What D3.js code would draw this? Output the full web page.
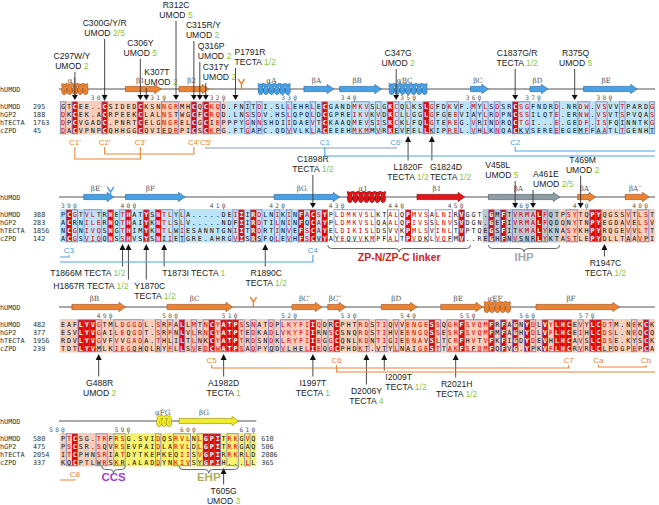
<!DOCTYPE html>
<html><head><meta charset="utf-8">
<script src="https://cdn.jsdelivr.net/npm/d3@7/dist/d3.min.js"></script>
<style>html,body{margin:0;padding:0;background:#fff;}svg{display:block;}</style>
</head><body>
<svg id="chart" width="659" height="505"></svg>
<script>
// ================= DATA =================
const seqNames = ["hUMOD", "hGP2", "hTECTA", "cZPD"];
const startHUMOD = [295, 388, 482, 580];
const startHGP2 = [188, 283, 377, 475];
const startHTECTA = [1763, 1856, 1956, 2054];
const startCZPD = [45, 142, 239, 337];
const endNumbers = [610, 506, 2086, 365];

const hUMOD = [
  "GTCEE..CSIDEDCKSNNGRMHCQCKQD.FNITDI.SLLEHRLECGANDMKVSLGKCQLKSLGFDKVF.MYLSDSRCSGFNDRD.NRDW.VSVVTPARDG",
  "PCGTVLTRNETHATYSNTLYLA.....DEIIIRDLNIKINFACSYPLDMKVSLKTALQPMVSALNIRVGGT.GMFTVRMALFQTPSYTQPYQGSSVTLST",
  "EAFLYVGTMLDGGDL.SRFALLMTNCYATPSSNATDPLKYFIIQDRCPHTRDSTIQVVENGESSQGRFSVQMFRFAGNYDLVYLHCEVYLCDTM.NEKCK",
  "PTCSG.TRFRSG.SVIDQSRVLNLGPITRKGVQ"];
const hGP2 = [
  "DKCEK.ACRPEEKCLALNSTWGCFCRQD.LNSSDV.HSLQPQLDCGPREIKVKVDKCLLGGLGFGEEVIAYLRDPNCSSILQTE.ERNW.VSVTSPVQAS",
  "ACRNILERNQTHAIYKNTLSLV.....NDFIIRDTILNINFQCAYPLDMKVSLQAALQPIVSSLNVSVDGN.GEFIVRMALFQDQNYTNPYEGDAVELSV",
  "ESVLYVGAILEQGDT.SRFNLVLRNCYATPTEDKADLVKYFIIRNSCSNQRDSTIHVEENGQSSESRFSVQMFMFAGHYDLVFLHCEIHLCDSL.NEQCQ",
  "PSCSR.SQVRSEVPAIDLARVLDLGPITRRGAQ"];
const hTECTA = [
  "DPCVGADC.PNRTCELGNGRELCGCIEPPPYGNNSHDIIDAEVTCKAAQMEVSISKCKLFQLGTEREG.VRINDRQCTGI...E.GEDF.ISFQINNTKG",
  "NCGNIVQSNGTHIMYKNTLWIESANNTGNIITRDRTINVEFSCAYELDIKISLDSVVKPMLSVINLTVPTQEGSFITKMALYKNASYKHPYRQGEVVLTT",
  "RDVLYVGVFVVGADA.THLILTLNKCYATPTRDSNDKLRYFIIEGGCQNLKDNTIGIEENAVSLTCRFHVTVFKFIGDYDEVHLHCAVSLCDSE.KYSCK",
  "ITCPHNSRIATDYTKEPKEQIISVGPIRRKRLD"];
const cZPD = [
  "DACVPNPCQHHGGCQVIEDRPICSCKPG.FTGAPC.QDVVLKLACEEEHMKMMVRKEVFELLKIPREL.VHLKNQACKVSEREEEGEMFFAATLTGENHT",
  "ACGSVIQQNSSHVSYSNIIETGRE.AHRGVISRSFQLEVHFSCVYAYEQVVKMPFALTPVDKLVQFMV..REGHFNVSNRLYKTASTLEPYDLLTAAVPI",
  "TDTLYVMLKIEGQHQLRYFLLSVEDCWATPSADPYQDVLHELIEQGCPHDKT.VTYLNAIGESTTAKFSFQMFQFVG.YPKVFLHCRVRLCLPDGPEPCA",
  "KQCPTLWRSKR.ALADDYNKIVSYGPIH...LL"];

// hUMOD residue ranges of the regions
const domainRanges = [["egf", 295, 320], ["zpn", 321, 427], ["linker", 428, 453], ["ihp", 454, 465], ["zpc", 466, 587], ["cterm", 588, 610]];
// secondary structure (hUMOD numbering)
const helices = [["α1", 295, 299, "egf"], ["αA", 325, 329, "zpn"], ["αBC", 346, 352, "zpn"], ["α1", 431, 437, "linker"], ["αEF", 552, 556, "zpc"], ["αFG", 594, 596, "cterm"]];
const strands = [["β1", 304, 309, "egf"], ["β2", 313, 317, "egf"], ["βA", 332, 336, "zpn"], ["βB", 338, 344, "zpn"], ["βC", 359, 361, "zpn"], ["βD", 369, 371, "zpn"], ["βE", 377, 384, "zpn"], ["βE′", 392, 396, "zpn"], ["βF", 399, 408, "zpn"], ["βG", 419, 429, "zpn"], ["β1", 443, 450, "linker"], ["βA", 454, 465, "ihp"], ["βA′", 469, 471, "zpc"], ["βA′′", 477, 480, "zpc"], ["βB", 484, 492, "zpc"], ["βC", 499, 509, "zpc"], ["βC′", 520, 524, "zpc"], ["βC′′", 526, 528, "zpc"], ["βD", 535, 540, "zpc"], ["βE", 545, 551, "zpc"], ["βF", 561, 574, "zpc"], ["βG", 598, 607, "cterm"]];
const glycans = [[322, "egf"], [396, "zpn"], [513, "zpc"]];
const rulerTicks = [300, 310, 320, 330, 340, 350, 360, 370, 380, 390, 400, 410, 420, 430, 440, 450, 460, 470, 480, 490, 500, 510, 520, 530, 540, 550, 560, 570, 580, 590, 600, 610];

// disease mutations: label, gene, grade, sequence index, residue
const mutations = [
  ["C297W/Y", "UMOD", "2", 0, 297], ["C300G/Y/R", "UMOD", "2/5", 0, 300], ["C306Y", "UMOD", "5", 0, 306],
  ["K307T", "UMOD", "2", 0, 307], ["R312C", "UMOD", "5", 0, 312], ["C315R/Y", "UMOD", "2", 0, 315],
  ["Q316P", "UMOD", "2", 0, 316], ["C317Y", "UMOD", "2", 0, 317], ["P1791R", "TECTA", "1/2", 2, 1791],
  ["C347G", "UMOD", "2", 0, 347], ["C1837G/R", "TECTA", "1/2", 2, 1837], ["R375Q", "UMOD", "5", 0, 375],
  ["L1820F", "TECTA", "1/2", 2, 1820], ["G1824D", "TECTA", "1/2", 2, 1824], ["C1898R", "TECTA", "1/2", 2, 1898],
  ["V458L", "UMOD", "5", 0, 458], ["A461E", "UMOD", "2/5", 0, 461], ["T469M", "UMOD", "2", 0, 469],
  ["T1866M", "TECTA", "1/2", 2, 1866], ["H1867R", "TECTA", "1/2", 2, 1867], ["Y1870C", "TECTA", "1/2", 2, 1870],
  ["T1873I", "TECTA", "1", 2, 1873], ["R1890C", "TECTA", "1/2", 2, 1890], ["R1947C", "TECTA", "1/2", 2, 1947],
  ["G488R", "UMOD", "2", 0, 488], ["A1982D", "TECTA", "1", 2, 1982], ["I1997T", "TECTA", "1", 2, 1997],
  ["D2006Y", "TECTA", "4", 2, 2006], ["I2009T", "TECTA", "1/2", 2, 2009], ["R2021H", "TECTA", "1/2", 2, 2021],
  ["T605G", "UMOD", "3", 0, 605]];

// cysteines (hUMOD numbering) and disulfide pairs
const cysteines = [["C1'", 297, "egf"], ["C2'", 300, "egf"], ["C3'", 306, "egf"], ["C4'", 315, "egf"], ["C5'", 317, "egf"],
  ["C1", 335, "zpn"], ["C6'", 347, "zpn"], ["C2", 366, "zpn"], ["C3", 389, "zpn"], ["C4", 425, "zpn"],
  ["C5", 506, "zpc"], ["C6", 527, "zpc"], ["C7", 566, "zpc"], ["Ca", 571, "zpc"], ["Cb", 578, "zpc"], ["C8", 582, "zpc"]];
const disulfides = [["C5'", "C6'", "bridge"], ["C2", "C3", "zpn"], ["C2'", "C4'", "egf"], ["C1", "C4", "zpn"], ["C1'", "C3'", "egf"],
  ["Ca", "Cb", "zpc"], ["C5", "C7", "zpc"], ["C6", "C8", "zpc"]];
const braces = [["ZP-N/ZP-C linker", 428, 451, "linker"], ["IHP", 454, 465, "ihp"], ["CCS", 586, 589, "ccs"], ["EHP", 598, 607, "ehp"]];

// ================= LAYOUT / STYLE =================
const svg = d3.select("#chart");
const x = d3.scaleLinear().domain([0, 100]).range([60, 655]);
const cw = x(1) - x(0);
const cx = c => x(c + 0.5);
const ssY = [89, 197, 307, 421];
const rowOff = d3.scaleLinear().domain([0, 3]).range([17.6, 41.45]);
const MONO = "'DejaVu Sans Mono','Liberation Mono',monospace";
const SANS = "'Liberation Sans',Arial,Helvetica,sans-serif";
const SEQ_FS = 6.8, LAB_FS = 8.6, LAB_LH = 10;
const bgColor = d3.scaleOrdinal(["egf", "zpn", "linker", "ihp", "zpc", "cterm"], ["#f8cdb9", "#bde4f6", "none", "#bcc7cf", "#f8cdb9", "#f8f36e"]);
const ssColor = d3.scaleOrdinal(["egf", "zpn", "linker", "ihp", "zpc", "cterm", "bridge"], ["#ea8434", "#4aa2e6", "#e3151a", "#8d9ca4", "#ea8434", "#f1ec2a", "#8a9db3"]);
const ssStroke = d3.scaleOrdinal(["egf", "zpn", "linker", "ihp", "zpc", "cterm"], ["#a5521a", "#2a6aa8", "#8a0a0a", "#56646b", "#a5521a", "#9a9410"]);
const braceColor = d3.scaleOrdinal(["linker", "ihp", "ccs", "ehp"], ["#d01c1c", "#a0a9ad", "#a041cc", "#b3ad5a"]);
const GREEN = "#8cc83c";

// mutation label layout: dx from residue x, anchor, first baseline, single line?
const mutLayout = {
  "C297W/Y": [-3, "middle", 59], "C300G/Y/R": [0, "middle", 26], "C306Y": [0, "middle", 46], "K307T": [-2, "start", 75],
  "R312C": [0, "middle", 8], "C315R/Y": [-8, "start", 28], "Q316P": [-2, "start", 49], "C317Y": [-3, "start", 70],
  "P1791R": [-1, "start", 55], "C347G": [2, "middle", 56], "C1837G/R": [2, "middle", 56], "R375Q": [1, "middle", 56],
  "L1820F": [0, "middle", 170], "G1824D": [-2, "start", 170], "C1898R": [0, "middle", 162],
  "V458L": [-30, "start", 168], "A461E": [0, "start", 177], "T469M": [2, "middle", 163],
  "T1866M": [3, "end", 276, true], "H1867R": [0, "end", 289, true], "Y1870C": [-12, "start", 289], "T1873I": [-2, "start", 276, true],
  "R1890C": [1, "middle", 276], "R1947C": [1, "middle", 266],
  "G488R": [1, "middle", 386], "A1982D": [0, "middle", 386], "I1997T": [0, "middle", 386], "D2006Y": [0, "middle", 394],
  "I2009T": [1, "start", 380], "R2021H": [1, "middle", 387], "T605G": [0, "middle", 494]
};
const bondLevels = { "C5'": [59], "C2": [62, 60], "C2'": [65], "C1": [67, 65], "C1'": [70], "Ca": [60], "C5": [61], "C6": [65, 59] };
const braceY = { "linker": [48, 64], "ihp": [48, 64], "ccs": [45, 60], "ehp": [45, 60] };

// ================= DERIVED =================
const aligned = [hUMOD, hGP2, hTECTA, cZPD];
const starts = [startHUMOD, startHGP2, startHTECTA, startCZPD];
const posMaps = aligned.map((blocks, si) => {
  const m = new Map();
  blocks.forEach((str, b) => {
    let n = starts[si][b];
    for (let c = 0; c < str.length; c++) if (str[c] !== ".") { m.set(n, { b, c }); n++; }
  });
  return m;
});
const pos = (si, res) => posMaps[si].get(res);
const colRes = hUMOD.map((str, b) => {
  let n = startHUMOD[b]; const arr = [];
  for (let c = 0; c < str.length; c++) { if (str[c] !== ".") { arr.push(n); n++; } else arr.push(null); }
  return arr;
});
const domOf = r => { for (const [d, a, z] of domainRanges) if (r >= a && r <= z) return d; return null; };

const simGroups = ["ILVM", "FYW", "KR", "DE", "ST", "NQ", "ND", "EQ", "AGS"];
function colStatus(chars) {
  const aa = chars.filter(ch => ch !== ".");
  if (aa.length === 4 && aa.every(ch => ch === aa[0])) return { type: "id", set: aa[0] };
  let best = 0, bestSet = "";
  const counts = d3.rollup(aa, v => v.length, d => d);
  for (const [ch, n] of counts) if (n > best) { best = n; bestSet = ch; }
  for (const g of simGroups) { const n = aa.filter(ch => g.includes(ch)).length; if (n > best) { best = n; bestSet = g; } }
  return best >= 3 ? { type: "sim", set: bestSet } : { type: "none", set: "" };
}

// ================= DRAW =================
const gBg = svg.append("g"), gId = svg.append("g"), gFrame = svg.append("g"), gTxt = svg.append("g"), gAnn = svg.append("g");

hUMOD.forEach((str, b) => {
  const n = str.length, y0 = ssY[b];
  const top = y0 + 12, bot = y0 + 45.5;
  const doms = [];
  for (let c = 0; c < n; c++) {
    let r = colRes[b][c], k = c;
    while (r === null && k < n - 1) { k++; r = colRes[b][k]; }
    doms.push(domOf(r));
  }
  let s = 0;
  for (let c = 1; c <= n; c++) {
    if (c === n || doms[c] !== doms[s]) {
      if (bgColor(doms[s]) !== "none")
        gBg.append("rect").attr("x", x(s)).attr("y", top).attr("width", x(c) - x(s)).attr("height", bot - top).attr("fill", bgColor(doms[s]));
      s = c;
    }
  }
  const stat = [];
  for (let c = 0; c < n; c++) stat.push(colStatus(aligned.map(a => a[b][c])));
  stat.forEach((st, c) => {
    if (st.type === "id") gId.append("rect").attr("x", x(c)).attr("y", top + 1).attr("width", cw).attr("height", bot - top - 2).attr("fill", "#e10a0a");
  });
  let rs = -1;
  for (let c = 0; c <= n; c++) {
    const on = c < n && stat[c].type !== "none";
    if (on && rs < 0) rs = c;
    if (!on && rs >= 0) {
      gFrame.append("rect").attr("x", x(rs) + 0.3).attr("y", top + 0.8).attr("width", x(c) - x(rs) - 0.6).attr("height", bot - top - 1.6)
        .attr("fill", "none").attr("stroke", "#7483cf").attr("stroke-width", 0.8);
      rs = -1;
    }
  }
  aligned.forEach((a, i) => {
    const yy = y0 + rowOff(i) + 2.6;
    gTxt.append("text").attr("x", 0).attr("y", yy).text(seqNames[i]).attr("font-family", MONO).attr("font-size", SEQ_FS).attr("fill", "#333");
    gTxt.append("text").attr("x", 33).attr("y", yy).text(starts[i][b]).attr("font-family", MONO).attr("font-size", SEQ_FS).attr("fill", "#333");
    if (b === 3) gTxt.append("text").attr("x", x(n) + 5).attr("y", yy).text(endNumbers[i]).attr("font-family", MONO).attr("font-size", SEQ_FS).attr("fill", "#333");
    [...a[b]].forEach((ch, c) => {
      const st = stat[c];
      let fill = "#111", fw = "normal";
      if (st.type === "id") { fill = "#fff"; fw = "bold"; }
      else if (st.type === "sim" && ch !== "." && st.set.includes(ch)) fill = "#d40000";
      gTxt.append("text").attr("x", cx(c)).attr("y", yy).attr("text-anchor", "middle").text(ch)
        .attr("font-family", MONO).attr("font-size", SEQ_FS).attr("font-weight", fw).attr("fill", fill);
    });
  });
  gAnn.append("text").attr("x", 0).attr("y", y0 + 2.5).text("hUMOD").attr("font-family", MONO).attr("font-size", SEQ_FS).attr("fill", "#333");
  gAnn.append("line").attr("x1", x(0) - 1).attr("x2", x(n)).attr("y1", y0).attr("y2", y0).attr("stroke", "#555").attr("stroke-width", 1);
});

// ruler
rulerTicks.forEach(t => {
  const p = pos(0, t); if (!p) return;
  const str = String(t);
  [...str].forEach((d, k) => {
    gAnn.append("text").attr("x", cx(p.c - (str.length - 1 - k))).attr("y", ssY[p.b] + 10.5).attr("text-anchor", "middle")
      .text(d).attr("font-family", MONO).attr("font-size", 6.2).attr("fill", "#555");
  });
  gAnn.append("line").attr("x1", cx(p.c)).attr("x2", cx(p.c)).attr("y1", ssY[p.b] + 11).attr("y2", ssY[p.b] + 12.5).attr("stroke", "#555").attr("stroke-width", 0.7);
});

const labelX = (x0, x1) => x0 + 0.42 * (x1 - x0);
// strands
strands.forEach(([name, a, z, dom]) => {
  const pa = pos(0, a), pz = pos(0, z);
  const x0 = x(pa.c), x1 = x(pz.c + 1), y = ssY[pa.b];
  const hl = Math.min(6.5, (x1 - x0) * 0.5), bh = 2.6, hh = 4.6;
  gAnn.append("path").attr("d", `M${x0},${y - bh}L${x1 - hl},${y - bh}L${x1 - hl},${y - hh}L${x1},${y}L${x1 - hl},${y + hh}L${x1 - hl},${y + bh}L${x0},${y + bh}Z`)
    .attr("fill", ssColor(dom)).attr("stroke", ssStroke(dom)).attr("stroke-width", 0.7);
  gAnn.append("text").attr("x", labelX(x0, x1)).attr("y", y - 6).attr("text-anchor", "middle").text(name)
    .attr("font-family", "'DejaVu Serif',serif").attr("font-size", 7.2).attr("fill", "#555");
});
// helices
helices.forEach(([name, a, z, dom]) => {
  const pa = pos(0, a), pz = pos(0, z);
  const x0 = x(pa.c), x1 = x(pz.c + 1), y = ssY[pa.b];
  const turns = Math.max(2, Math.round((x1 - x0) / 6));
  const pitch = (x1 - x0 - 3) / turns;
  const pts = d3.range(0, turns * 2 * Math.PI + 0.01, 0.15).map(t => [x0 + 1.5 + pitch * t / (2 * Math.PI) + 2.4 * Math.sin(t), y + 4.2 * Math.cos(t + Math.PI)]);
  const line = d3.line();
  gAnn.append("path").attr("d", line(pts)).attr("fill", "none").attr("stroke", ssStroke(dom)).attr("stroke-width", 3.2);
  gAnn.append("path").attr("d", line(pts)).attr("fill", "none").attr("stroke", ssColor(dom)).attr("stroke-width", 2);
  gAnn.append("text").attr("x", labelX(x0, x1)).attr("y", y - 6).attr("text-anchor", "middle").text(name)
    .attr("font-family", "'DejaVu Serif',serif").attr("font-size", 7.2).attr("fill", "#555");
});
// glycans
glycans.forEach(([r, dom]) => {
  const p = pos(0, r), gx = cx(p.c), y = ssY[p.b];
  gAnn.append("path").attr("d", `M${gx},${y}V${y - 5}M${gx},${y - 5}L${gx - 3.2},${y - 10}M${gx},${y - 5}L${gx + 3.2},${y - 10}`)
    .attr("fill", "none").attr("stroke", ssColor(dom)).attr("stroke-width", 1.4);
});

// mutations
function mutText(g, tx, ty, anchor, lab, gene, grade, one) {
  const t = g.append("text").attr("x", tx).attr("y", ty).attr("text-anchor", anchor).attr("font-family", SANS).attr("font-size", LAB_FS).attr("fill", "#222");
  if (one) {
    t.append("tspan").text(lab + " " + gene + " ");
    t.append("tspan").attr("fill", GREEN).text(grade);
  } else {
    t.text(lab);
    const t2 = g.append("text").attr("x", tx).attr("y", ty + LAB_LH).attr("text-anchor", anchor).attr("font-family", SANS).attr("font-size", LAB_FS).attr("fill", "#222");
    t2.append("tspan").text(gene + " ");
    t2.append("tspan").attr("fill", GREEN).text(grade);
  }
}
mutations.forEach(([lab, gene, grade, si, res]) => {
  const p = pos(si, res); const L = mutLayout[lab];
  const mx = cx(p.c), y0 = ssY[p.b];
  const [dx, anchor, ty, one] = L;
  mutText(gAnn, mx + dx, ty, anchor, lab, gene, grade, one);
  if (ty < y0) {
    const ly = ty + (one ? 3 : LAB_LH + 3);
    gAnn.append("line").attr("x1", mx).attr("x2", mx).attr("y1", ly).attr("y2", y0 + 6).attr("stroke", "#333").attr("stroke-width", 0.9);
    gAnn.append("path").attr("d", `M${mx - 3},${y0 + 6}L${mx + 3},${y0 + 6}L${mx},${y0 + 11}Z`).attr("fill", "#111");
  } else {
    const tip = y0 + 47;
    gAnn.append("line").attr("x1", mx).attr("x2", mx).attr("y1", tip + 5).attr("y2", ty - 9.5).attr("stroke", "#333").attr("stroke-width", 0.9);
    gAnn.append("path").attr("d", `M${mx - 3},${tip + 6}L${mx + 3},${tip + 6}L${mx},${tip}Z`).attr("fill", "#111");
  }
});

// cysteine labels and disulfide connections
const cysPos = {};
cysteines.forEach(([name, r, dom]) => {
  const p = pos(0, r); cysPos[name] = { b: p.b, x: cx(p.c) };
  gAnn.append("text").attr("x", cx(p.c)).attr("y", ssY[p.b] + 56).attr("text-anchor", "middle").text(name)
    .attr("font-family", SANS).attr("font-size", 8).attr("fill", ssColor(dom));
});
disulfides.forEach(([a, z, dom]) => {
  const A = cysPos[a], Z = cysPos[z], lv = bondLevels[a];
  const col = ssColor(dom);
  let d;
  if (A.b === Z.b) {
    const ly = ssY[A.b] + lv[0];
    d = `M${A.x},${ssY[A.b] + 58}V${ly}H${Z.x}V${ssY[A.b] + 58}`;
  } else {
    const l1 = ssY[A.b] + lv[0], l2 = ssY[Z.b] + lv[1];
    d = `M${A.x},${ssY[A.b] + 58}V${l1}H${x(100)}M${x(0)},${l2}H${Z.x}V${ssY[Z.b] + 58}`;
  }
  gAnn.append("path").attr("d", d).attr("fill", "none").attr("stroke", col).attr("stroke-width", 1.1);
});

// braces
braces.forEach(([label, a, z, key]) => {
  const pa = pos(0, a), pz = pos(0, z);
  const x0 = x(pa.c), x1 = x(pz.c + 1), xm = (x0 + x1) / 2;
  const [by, ty] = braceY[key];
  const t = ssY[pa.b] + by, h = 3.5, r = 4;
  const d = `M${x0},${t}Q${x0},${t + h} ${x0 + r},${t + h}L${xm - r},${t + h}Q${xm},${t + h} ${xm},${t + 2 * h}Q${xm},${t + h} ${xm + r},${t + h}L${x1 - r},${t + h}Q${x1},${t + h} ${x1},${t}`;
  gAnn.append("path").attr("d", d).attr("fill", "none").attr("stroke", "#555").attr("stroke-width", 0.9);
  gAnn.append("text").attr("x", xm).attr("y", ssY[pa.b] + ty).attr("text-anchor", "middle").text(label)
    .attr("font-family", SANS).attr("font-weight", "bold").attr("font-size", key === "linker" ? 10.5 : 11.5).attr("fill", braceColor(key));
});
</script>
</body></html>
